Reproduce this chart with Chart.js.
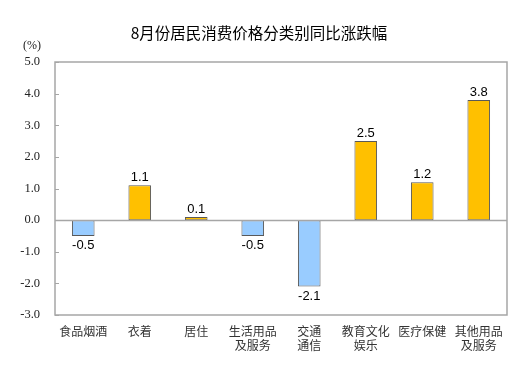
<!DOCTYPE html>
<html>
<head>
<meta charset="utf-8">
<script src="https://cdn.jsdelivr.net/npm/chart.js@4.4.1/dist/chart.umd.min.js"></script>
<style>
html,body{margin:0;padding:0;background:#fff;}
#wrap{width:529px;height:378px;}
</style>
</head>
<body>
<div id="wrap"><canvas id="c" width="529" height="378"></canvas></div>
<script>
const titleText = '8月份居民消费价格分类别同比涨跌幅';
const unitLabel = '(%)';
const categories = [
  '食品烟酒',
  '衣着',
  '居住',
  ['生活用品', '及服务'],
  ['交通', '通信'],
  ['教育文化', '娱乐'],
  '医疗保健',
  ['其他用品', '及服务']
];
const values = [-0.5, 1.1, 0.1, -0.5, -2.1, 2.5, 1.2, 3.8];
const yTicks = [-3, -2, -1, 0, 1, 2, 3, 4, 5];

const POS_COLOR = '#FFC000';
const NEG_COLOR = '#99CCFF';

const framePlugin = {
  id: 'frame',
  afterDatasetsDraw(chart) {
    const {ctx, chartArea: a, scales: {y}} = chart;
    ctx.save();
    ctx.strokeStyle = '#a6a6a6';
    ctx.lineWidth = 1.5;
    ctx.strokeRect(a.left, a.top, a.right - a.left, a.bottom - a.top);
    const z = Math.round(y.getPixelForValue(0)) + 0.5;
    ctx.beginPath();
    ctx.moveTo(a.left, z);
    ctx.lineTo(a.right, z);
    ctx.stroke();
    ctx.lineWidth = 1;
    yTicks.forEach(v => {
      const p = Math.round(y.getPixelForValue(v)) + 0.5;
      ctx.beginPath();
      ctx.moveTo(a.left, p);
      ctx.lineTo(a.left + 4, p);
      ctx.stroke();
    });
    ctx.fillStyle = '#000';
    ctx.font = '13px "Liberation Sans", Arial, sans-serif';
    ctx.textAlign = 'center';
    const meta = chart.getDatasetMeta(0);
    meta.data.forEach((bar, i) => {
      const v = values[i];
      const txt = v.toFixed(1);
      if (v >= 0) {
        ctx.textBaseline = 'bottom';
        ctx.fillText(txt, bar.x, bar.y - 1);
      } else {
        ctx.textBaseline = 'top';
        ctx.fillText(txt, bar.x, bar.y + 3);
      }
    });
    ctx.font = '12px "Liberation Serif", "Times New Roman", serif';
    ctx.fillStyle = '#222';
    ctx.textAlign = 'center';
    ctx.textBaseline = 'middle';
    ctx.fillText(unitLabel, 32, 46);
    ctx.font = '15.5px "Noto Sans CJK SC", sans-serif';
    ctx.fillStyle = '#000';
    ctx.fillText(titleText, 259, 33);
    ctx.restore();
  }
};

new Chart(document.getElementById('c'), {
  type: 'bar',
  data: {
    labels: categories,
    datasets: [{
      data: values,
      backgroundColor: values.map(v => v >= 0 ? POS_COLOR : NEG_COLOR),
      borderColor: '#595959',
      borderWidth: 1,
      borderSkipped: false,
      categoryPercentage: 1,
      barPercentage: 0.4
    }]
  },
  options: {
    responsive: false,
    animation: false,
    layout: {padding: {left: 0, right: 22, top: 62, bottom: 0}},
    plugins: {
      legend: {display: false},
      tooltip: {enabled: false},
      title: {display: false}
    },
    scales: {
      x: {
        grid: {display: false, drawTicks: false},
        border: {display: false},
        ticks: {
          color: '#333',
          padding: 9,
          maxRotation: 0,
          autoSkip: false,
          font: {family: '"Noto Sans CJK SC", sans-serif', size: 12, lineHeight: 1.2}
        },
        afterFit(s) { s.height = 63; }
      },
      y: {
        min: -3,
        max: 5,
        afterBuildTicks(s) { s.ticks = yTicks.map(v => ({value: v})); },
        grid: {display: false, drawTicks: false},
        border: {display: false},
        ticks: {
          color: '#222',
          padding: 15,
          font: {family: '"Liberation Serif", "Times New Roman", serif', size: 12.5},
          callback: v => Number(v).toFixed(1)
        },
        afterFit(s) { s.width = 55; }
      }
    }
  },
  plugins: [framePlugin]
});
</script>
</body>
</html>
